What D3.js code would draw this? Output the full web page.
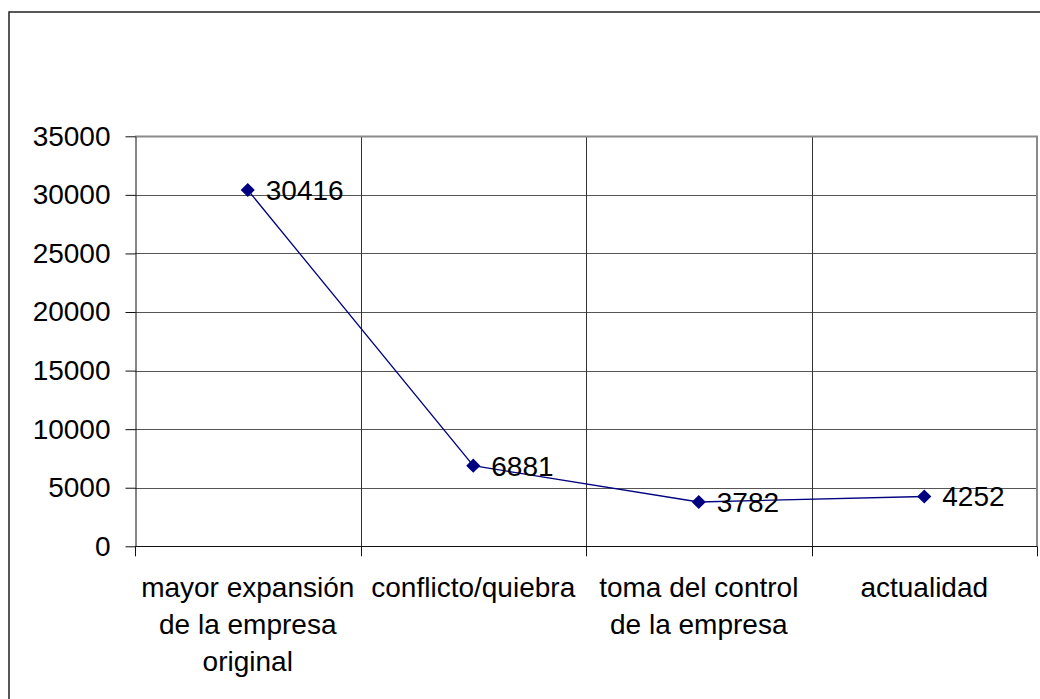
<!DOCTYPE html>
<html>
<head>
<meta charset="utf-8">
<script src="https://cdn.jsdelivr.net/npm/d3@7"></script>
<style>
  body { margin: 0; background: #fff; }
  text { font-family: "Liberation Sans", Arial, sans-serif; }
</style>
</head>
<body>
<svg id="chart" width="1040" height="699"></svg>
<script>
// data
var categories = ["mayor expansión de la empresa original", "conflicto/quiebra", "toma del control de la empresa", "actualidad"];
var labelLines = [["mayor expansión", "de la empresa", "original"], ["conflicto/quiebra"], ["toma del control", "de la empresa"], ["actualidad"]];
var values = [30416, 6881, 3782, 4252];
var yTicks = [0, 5000, 10000, 15000, 20000, 25000, 30000, 35000];

var plot = {left: 135, right: 1037, top: 136.3, bottom: 546.3};
var fontSize = 28;

var svg = d3.select("#chart");

// outer chart frame (runs off the right/bottom edge)
svg.append("rect")
    .attr("x", 9).attr("y", 12)
    .attr("width", 1060).attr("height", 720)
    .attr("fill", "#fff")
    .attr("stroke", "#222")
    .attr("stroke-width", 1.5);

var x = d3.scaleBand().domain(categories).range([plot.left, plot.right]).padding(0);
var y = d3.scaleLinear().domain([0, 35000]).range([plot.bottom, plot.top]);

// horizontal gridlines
svg.append("g").selectAll("line")
    .data(yTicks.filter(function (d) { return d > 0 && d < 35000; }))
    .enter().append("line")
    .attr("x1", plot.left).attr("x2", plot.right)
    .attr("y1", function (d) { return Math.round(y(d)) + 0.5; })
    .attr("y2", function (d) { return Math.round(y(d)) + 0.5; })
    .attr("stroke", "#555").attr("stroke-width", 1);

// vertical gridlines at category boundaries
var bounds = categories.map(function (c) { return x(c); }).slice(1);
svg.append("g").selectAll("line")
    .data(bounds)
    .enter().append("line")
    .attr("x1", function (d) { return Math.round(d) + 0.5; })
    .attr("x2", function (d) { return Math.round(d) + 0.5; })
    .attr("y1", plot.top).attr("y2", plot.bottom)
    .attr("stroke", "#333").attr("stroke-width", 1);

// plot border top/right (gray)
svg.append("path")
    .attr("d", "M" + plot.left + "," + (Math.round(plot.top) + 0.5) + "H" + plot.right + "V" + plot.bottom)
    .attr("fill", "none")
    .attr("stroke", "#8a8a8a")
    .attr("stroke-width", 2);

// y axis
var yAxis = d3.axisLeft(y)
    .tickValues(yTicks)
    .tickSizeInner(10)
    .tickSizeOuter(0)
    .tickPadding(15)
    .tickFormat(d3.format("d"));

var gy = svg.append("g")
    .attr("transform", "translate(" + (plot.left + 0.5) + ",0)")
    .call(yAxis);
gy.select(".domain").attr("stroke", "#111");
gy.selectAll(".tick line").attr("stroke", "#111");
gy.selectAll(".tick text")
    .attr("font-size", fontSize)
    .attr("font-family", "Liberation Sans, Arial, sans-serif")
    .attr("fill", "#000");

// x axis line + boundary ticks
svg.append("line")
    .attr("x1", plot.left).attr("x2", plot.right)
    .attr("y1", Math.round(plot.bottom) + 0.5).attr("y2", Math.round(plot.bottom) + 0.5)
    .attr("stroke", "#111");

var allBounds = categories.map(function (c) { return x(c); }).concat([plot.right]);
svg.append("g").selectAll("line")
    .data(allBounds)
    .enter().append("line")
    .attr("x1", function (d) { return Math.round(d) + 0.5; })
    .attr("x2", function (d) { return Math.round(d) + 0.5; })
    .attr("y1", plot.bottom).attr("y2", plot.bottom + 10)
    .attr("stroke", "#111");

// category labels (multi line)
var cats = svg.append("g").selectAll("text")
    .data(categories)
    .enter().append("text")
    .attr("text-anchor", "middle")
    .attr("font-size", fontSize)
    .attr("fill", "#000")
    .attr("x", function (c) { return x(c) + x.bandwidth() / 2; })
    .attr("y", 597);

cats.each(function (c, i) {
    var t = d3.select(this);
    var cx = x(c) + x.bandwidth() / 2;
    labelLines[i].forEach(function (line, j) {
        t.append("tspan")
            .attr("x", cx)
            .attr("dy", j === 0 ? 0 : 37)
            .text(line);
    });
});

// series line
var lineGen = d3.line()
    .x(function (d, i) { return x(categories[i]) + x.bandwidth() / 2; })
    .y(function (d) { return y(d); });

svg.append("path")
    .datum(values)
    .attr("d", lineGen)
    .attr("fill", "none")
    .attr("stroke", "#000080")
    .attr("stroke-width", 1.3);

// diamond markers
var diamond = d3.symbol().type(d3.symbolSquare).size(100);
svg.append("g").selectAll("path")
    .data(values)
    .enter().append("path")
    .attr("d", diamond)
    .attr("transform", function (d, i) {
        return "translate(" + (x(categories[i]) + x.bandwidth() / 2) + "," + y(d) + ") rotate(45)";
    })
    .attr("fill", "#000080");

// data labels
svg.append("g").selectAll("text")
    .data(values)
    .enter().append("text")
    .attr("x", function (d, i) { return x(categories[i]) + x.bandwidth() / 2 + 18; })
    .attr("y", function (d) { return y(d) + 10; })
    .attr("font-size", fontSize)
    .attr("fill", "#000")
    .text(function (d) { return d; });
</script>
</body>
</html>
